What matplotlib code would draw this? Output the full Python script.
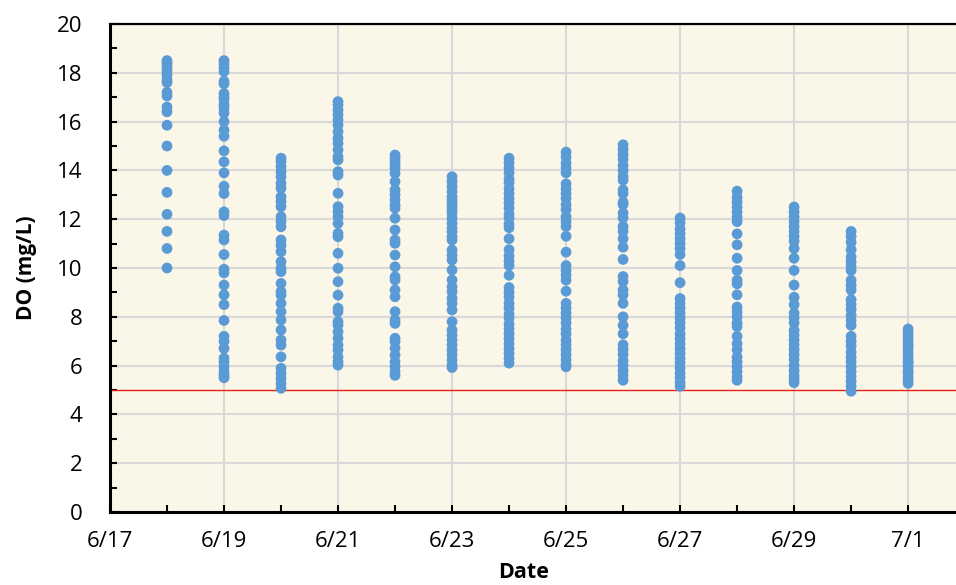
import datetime as dt
import matplotlib
matplotlib.use("Agg")
import matplotlib.pyplot as plt
import matplotlib.dates as mdates

# даты (день, на который приходится столбец точек)
days = ["6/18", "6/19", "6/20", "6/21", "6/22", "6/23", "6/24",
        "6/25", "6/26", "6/27", "6/28", "6/29", "6/30", "7/1"]

# растворённый кислород, мг/л
do_0618 = [18.5, 18.4, 18.3, 18.2, 18.05, 17.9, 17.7, 17.6, 17.2, 17.05, 16.6, 16.4,
           15.85, 15.0, 14.0, 13.1, 12.2, 11.5, 10.8, 10.0]
do_0619 = [18.5, 18.35, 18.2, 18.05, 17.65, 17.55, 17.15, 17.0, 16.9, 16.7, 16.55, 16.35,
           16.0, 15.65, 15.4, 14.8, 14.35, 13.9, 13.35, 13.05, 12.3, 12.15, 11.35, 11.15,
           10.55, 9.95, 9.8, 9.3, 8.9, 8.5, 7.85, 7.2, 7.0, 6.7, 6.3, 6.15, 5.95, 5.75,
           5.6, 5.5]
do_0620 = [14.5, 14.36, 14.15, 13.95, 13.74, 13.47, 13.27, 12.92, 12.72, 12.51, 12.1, 11.9,
           11.69, 11.15, 10.94, 10.67, 10.26, 9.99, 9.85, 9.37, 9.03, 8.89, 8.55, 8.21,
           7.87, 7.46, 7.05, 6.84, 6.36, 5.89, 5.68, 5.48, 5.27, 5.07]
do_0621 = [16.82, 16.68, 16.48, 16.27, 16.07, 15.86, 15.59, 15.32, 15.11, 14.84, 14.56,
           14.43, 13.95, 13.81, 13.06, 12.51, 12.31, 12.1, 11.83, 11.42, 11.28, 10.6,
           9.99, 9.44, 8.89, 8.35, 8.21, 7.8, 7.66, 7.39, 7.12, 6.84, 6.64, 6.36, 6.16, 6.02]
do_0622 = [14.63, 14.5, 14.36, 14.22, 14.09, 13.88, 13.54, 13.2, 12.99, 12.79, 12.58,
           12.45, 12.04, 11.56, 11.15, 11.01, 10.53, 10.05, 9.64, 9.51, 9.1, 8.82, 8.21,
           7.87, 7.73, 7.12, 6.98, 6.71, 6.43, 6.16, 5.96, 5.75, 5.6]
do_0623 = [13.74, 13.54, 13.33, 13.13, 12.92, 12.79, 12.65, 12.51, 12.38, 12.24, 12.04,
           11.83, 11.63, 11.49, 11.28, 11.15, 10.74, 10.53, 10.33, 9.92, 9.51, 9.23, 9.03,
           8.76, 8.55, 8.28, 7.8, 7.46, 7.25, 7.05, 6.84, 6.64, 6.43, 6.23, 6.02, 5.92]
do_0624 = [14.5, 14.3, 14.1, 13.9, 13.65, 13.5, 13.25, 13.05, 12.85, 12.65, 12.45, 12.2,
           12.05, 11.8, 11.65, 11.2, 10.75, 10.5, 10.3, 10.1, 9.7, 9.2, 9.0, 8.8, 8.55,
           8.35, 8.1, 7.95, 7.7, 7.5, 7.3, 7.1, 6.9, 6.7, 6.5, 6.3, 6.1]
do_0625 = [14.75, 14.55, 14.3, 14.1, 13.9, 13.45, 13.25, 13.05, 12.85, 12.6, 12.4, 12.1,
           11.9, 11.7, 11.3, 10.65, 10.1, 9.9, 9.7, 9.5, 9.05, 8.55, 8.35, 8.15, 7.95,
           7.75, 7.5, 7.3, 7.05, 6.85, 6.65, 6.45, 6.25, 6.05, 5.95]
do_0626 = [15.05, 14.85, 14.65, 14.45, 14.2, 14.0, 13.75, 13.6, 13.2, 13.05, 12.7, 12.6,
           12.25, 12.05, 11.7, 11.5, 11.2, 10.85, 10.35, 9.65, 9.45, 9.1, 8.9, 8.55, 8.0,
           7.65, 7.3, 6.85, 6.65, 6.45, 6.2, 6.0, 5.8, 5.6, 5.4]
do_0627 = [12.05, 11.85, 11.6, 11.4, 11.2, 11.0, 10.8, 10.55, 10.1, 9.4, 8.75, 8.55,
           8.35, 8.15, 7.95, 7.75, 7.55, 7.3, 7.1, 6.9, 6.7, 6.5, 6.3, 6.1, 5.9, 5.7,
           5.5, 5.3, 5.15]
do_0628 = [13.15, 12.9, 12.7, 12.5, 12.3, 12.1, 11.9, 11.4, 10.95, 10.4, 9.9, 9.5, 9.35,
           8.9, 8.4, 8.2, 8.0, 7.75, 7.6, 7.2, 6.9, 6.65, 6.35, 6.15, 5.95, 5.75, 5.55, 5.4]
do_0629 = [12.5, 12.3, 12.1, 11.9, 11.7, 11.5, 11.3, 11.1, 10.8, 10.4, 9.9, 9.3, 8.8,
           8.5, 8.15, 7.95, 7.75, 7.45, 7.25, 7.05, 6.85, 6.65, 6.45, 6.25, 6.0, 5.8,
           5.6, 5.45, 5.3]
do_0630 = [11.5, 11.3, 11.05, 10.75, 10.45, 10.25, 10.05, 9.9, 9.5, 9.3, 9.1, 8.7, 8.5,
           8.3, 8.05, 7.85, 7.65, 7.2, 7.0, 6.8, 6.55, 6.35, 6.15, 5.95, 5.75, 5.55, 5.35,
           5.15, 4.95]
do_0701 = [7.5, 7.35, 7.2, 7.05, 6.9, 6.8, 6.65, 6.5, 6.35, 6.2, 6.1, 5.95, 5.8, 5.7,
           5.55, 5.4, 5.27]

do_values = [do_0618, do_0619, do_0620, do_0621, do_0622, do_0623, do_0624,
             do_0625, do_0626, do_0627, do_0628, do_0629, do_0630, do_0701]

# норматив
do_limit = 5.0

year = 2023
dates = [dt.datetime.strptime(f"{year}/{d}", "%Y/%m/%d") for d in days]

plt.rcParams["font.family"] = ["Open Sans", "DejaVu Sans"]

fig = plt.figure(figsize=(9.56, 5.85), dpi=100)
ax = fig.add_axes([110 / 956, 73 / 585, 846 / 956, 488 / 585])
ax.set_facecolor("#FAF6E8")

# точки по дням
for d, vals in zip(dates, do_values):
    ax.scatter([d] * len(vals), vals, s=60, color="#5B9BD5", edgecolors="none", zorder=3)

# линия 5 мг/л
ax.axhline(do_limit, color="#E8201A", lw=1.0, zorder=2)

x0 = dt.datetime(year, 6, 17)
ax.set_xlim(x0, x0 + dt.timedelta(days=14.84))
ax.set_ylim(0, 20)

ax.xaxis.set_major_locator(mdates.DayLocator(bymonthday=[1, 17, 19, 21, 23, 25, 27, 29]))
ax.xaxis.set_minor_locator(mdates.DayLocator())
ax.xaxis.set_major_formatter(mdates.DateFormatter("%-m/%-d"))
ax.set_yticks(range(0, 21, 2))
ax.set_yticks(range(1, 20, 2), minor=True)

ax.grid(True, which="major", color="#D9D9D9", lw=1.5, zorder=0)
ax.set_axisbelow(True)

ax.tick_params(which="both", direction="in", length=5, width=1.5, labelsize=16)
ax.tick_params(axis="x", pad=14)
ax.tick_params(axis="y", pad=20)

for side in ["left", "bottom"]:
    ax.spines[side].set_linewidth(2.2)
ax.spines["top"].set_linewidth(1.6)
ax.spines["right"].set_visible(False)

# надписи
ax.set_xlabel("Date", fontsize=15.5, fontweight="bold")
ax.set_ylabel("DO (mg/L)", fontsize=15, fontweight="bold")
ax.xaxis.set_label_coords((524 - 110) / 846, -50 / 488)
ax.yaxis.set_label_coords(-73 / 846, 0.5)

fig.savefig("out.png", dpi=100)
